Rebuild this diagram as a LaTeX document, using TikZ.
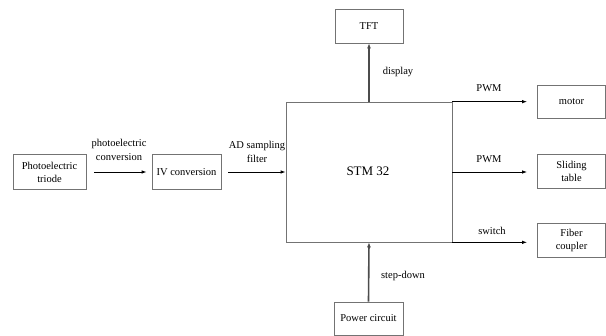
\documentclass[tikz,border=0pt]{standalone}
\usepackage{fontspec}
\setmainfont{Liberation Serif}
\usetikzlibrary{arrows.meta}
\begin{document}
\begin{tikzpicture}[x=1pt,y=-1pt,
  blk/.style={draw=black!55, line width=0.7pt, rectangle, inner sep=0pt, align=center, font=\fontsize{10.5}{13}\selectfont},
  arr/.style={draw=black, line width=0.9pt, -{Latex[length=5pt,width=3.5pt]}},
  varr/.style={draw=black!70, line width=1.6pt, -{Latex[length=5pt,width=4pt]}},
  lbl/.style={align=center, inner sep=0pt, font=\fontsize{10.5}{14}\selectfont}]
\useasboundingbox (0,0) rectangle (606,336);
\node[blk, minimum width=73pt, minimum height=35pt] (photo) at (49.5,172) {Photoelectric\\triode};
\node[blk, minimum width=69pt, minimum height=35pt] (iv) at (186.5,172) {IV conversion};
\node[blk, minimum width=166pt, minimum height=140pt] (stm) at (369,172) {};
\node[font=\fontsize{13}{15}\selectfont] (stmt) at (368,171) {STM 32};
\node[blk, minimum width=68pt, minimum height=34pt] (tft) at (369,26) {TFT};
\node[blk, minimum width=68pt, minimum height=33pt] (motor) at (571.5,102) {motor};
\node[blk, minimum width=68pt, minimum height=34pt] (slide) at (571.5,171) {Sliding\\table};
\node[blk, minimum width=68pt, minimum height=34pt] (fiber) at (571.5,240) {Fiber\\coupler};
\node[blk, minimum width=69pt, minimum height=33pt] (power) at (368.5,318.5) {Power circuit};
\draw[arr, shorten <=8pt, shorten >=5pt] (photo.east) -- (iv.west);
\draw[arr, shorten <=7pt] (iv.east) -- (stm.west);
\draw[varr] (stm.north) -- (tft.south);
\draw[varr] (power.north) -- (stm.south);
\draw[arr, shorten >=10pt] (stm.north east) -- (stm.north east -| motor.west);
\draw[arr, shorten >=10pt] (stm.east) -- (stm.east -| slide.west);
\draw[arr, shorten >=10pt] (stm.south east) -- (stm.south east -| fiber.west);
\node[lbl] (l1) at (119,150) {photoelectric\\conversion};
\node[lbl] (l2) at (257,152) {AD sampling\\filter};
\node[lbl] (l3) at (398,72) {display};
\node[lbl] (l4) at (489,88) {PWM};
\node[lbl] (l5) at (489,159) {PWM};
\node[lbl] (l6) at (492,231) {switch};
\node[lbl] (l7) at (403,276) {step-down};
\end{tikzpicture}
\end{document}
